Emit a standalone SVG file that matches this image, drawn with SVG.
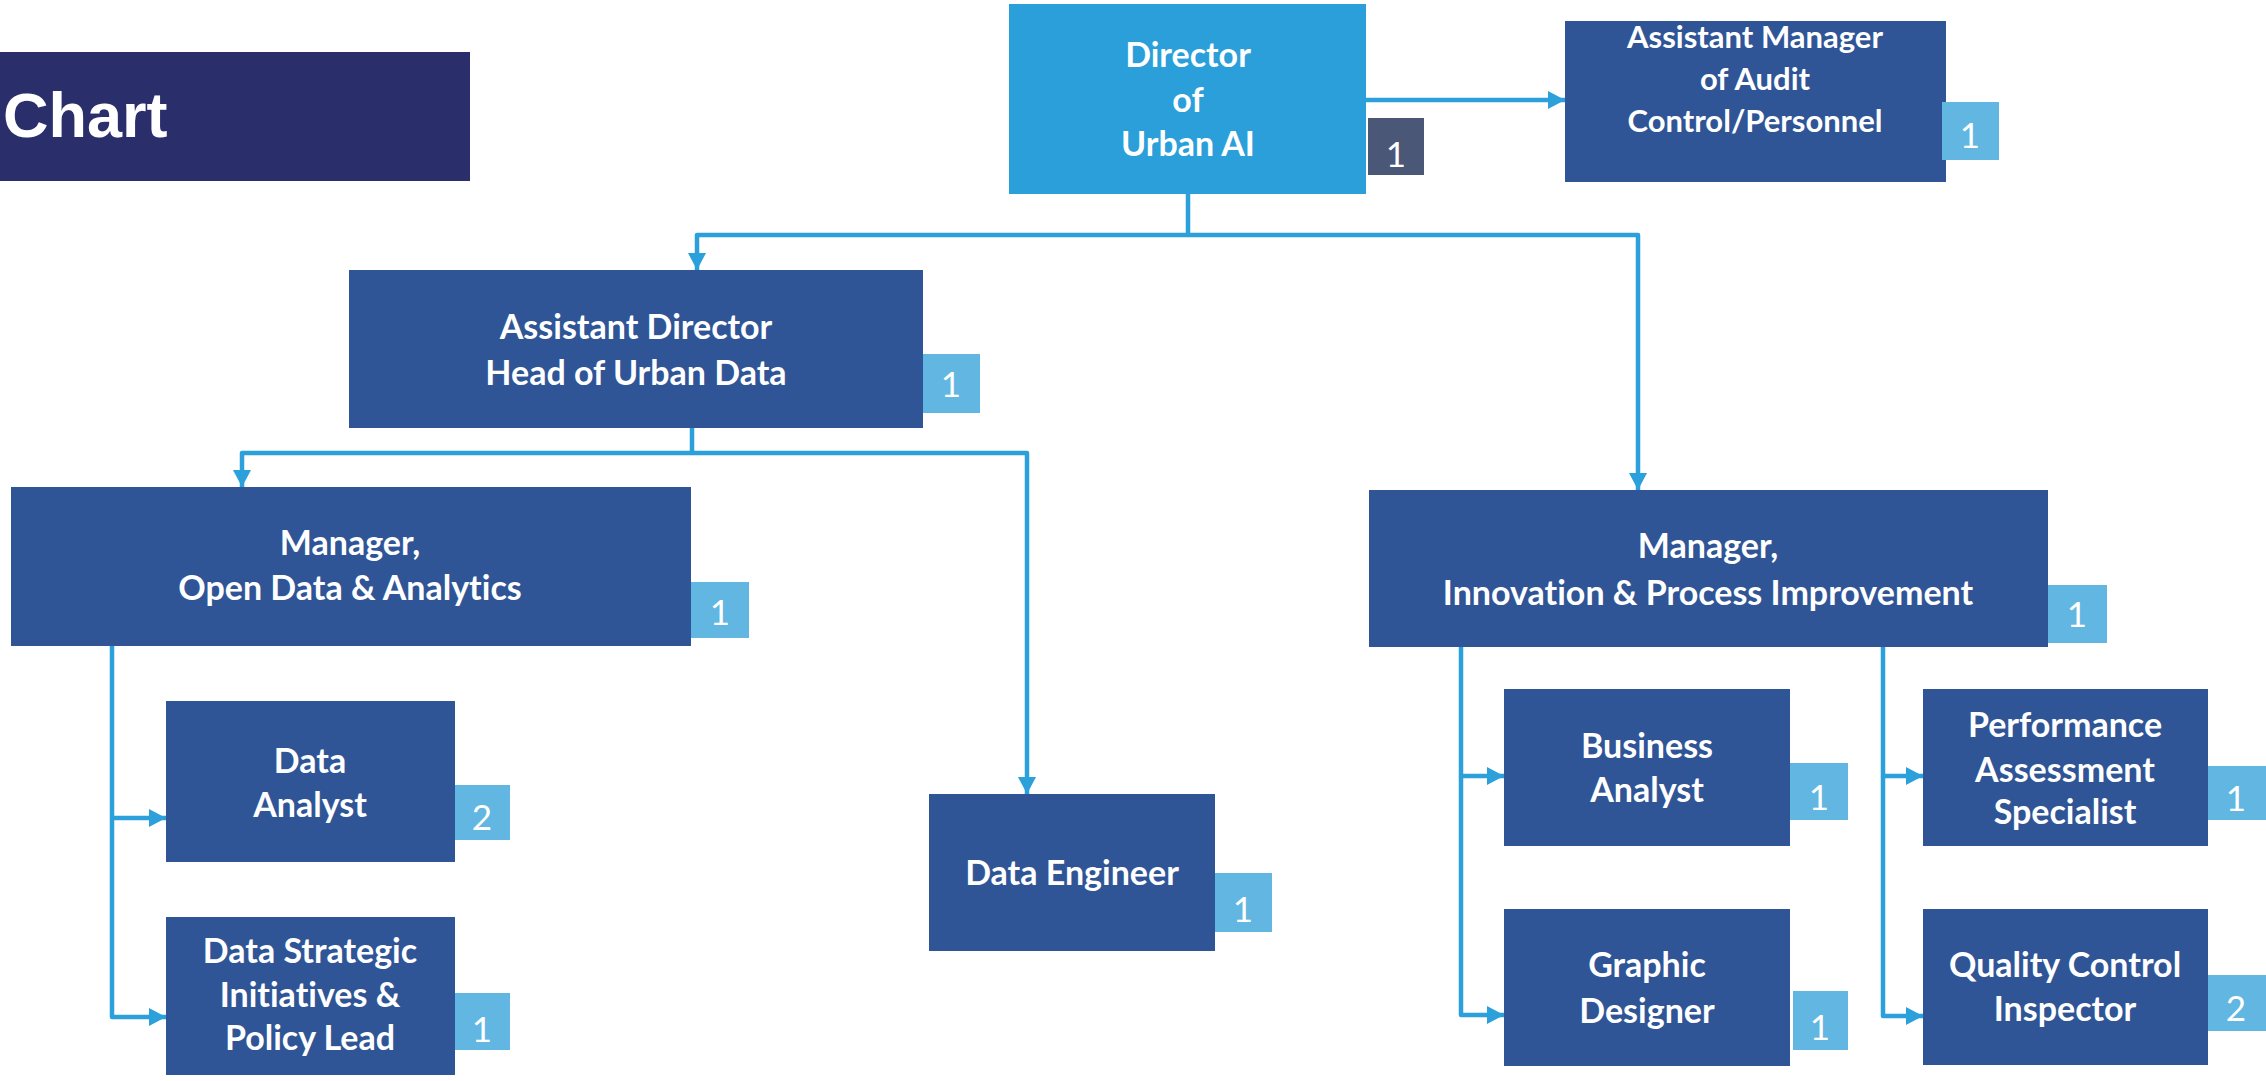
<svg xmlns="http://www.w3.org/2000/svg" width="2266" height="1081" viewBox="0 0 2266 1081">
<style>
.box{fill:#2F5597}
.top{fill:#2B9FD9}
.badge{fill:#62B6E2}
.badge-dark{fill:#4A5777}
.t{font-family:Lato,"Open Sans","Liberation Sans",sans-serif;font-weight:700;font-size:34px;fill:#ffffff;text-anchor:middle;font-variant-ligatures:none}
.ts{font-size:31px}
.n{font-family:Lato,"Open Sans","Liberation Sans",sans-serif;font-weight:400;font-size:35px;fill:#ffffff;text-anchor:middle}
.c{fill:none;stroke:#2BA0DA;stroke-width:4.5;stroke-linejoin:round}
</style>
<defs>
<marker id="arr" markerUnits="userSpaceOnUse" markerWidth="18" markerHeight="18" refX="17" refY="9" orient="auto">
<path d="M0,0 L17,9 L0,18 z" fill="#2BA0DA"/>
</marker>
</defs>
<rect width="2266" height="1081" fill="#ffffff"/>
<g id="title">
<rect x="0" y="52" width="470" height="129" fill="#2A2F6B"/>
<text x="3" y="137" font-family="'Liberation Sans',Arial,sans-serif" font-weight="700" font-size="63" fill="#ffffff">Chart</text>
</g>
<g id="connectors">
<path class="c" d="M1366,100 H1565" marker-end="url(#arr)"/>
<path class="c" d="M1188,194 V235 H697 V270" marker-end="url(#arr)"/>
<path class="c" d="M1188,235 H1638 V490" marker-end="url(#arr)"/>
<path class="c" d="M692,428 V453 H242 V487" marker-end="url(#arr)"/>
<path class="c" d="M692,453 H1027 V794" marker-end="url(#arr)"/>
<path class="c" d="M112,646 V818 H166" marker-end="url(#arr)"/>
<path class="c" d="M112,818 V1017 H166" marker-end="url(#arr)"/>
<path class="c" d="M1461,647 V776 H1504" marker-end="url(#arr)"/>
<path class="c" d="M1461,776 V1015 H1504" marker-end="url(#arr)"/>
<path class="c" d="M1883,647 V776 H1923" marker-end="url(#arr)"/>
<path class="c" d="M1883,776 V1016 H1923" marker-end="url(#arr)"/>
</g>
<g id="director">
<rect class="top" x="1009" y="4" width="357" height="190"/>
<text class="t" x="1188" y="67">Director</text>
<text class="t" x="1188" y="112">of</text>
<text class="t" x="1188" y="156">Urban AI</text>
<rect class="badge-dark" x="1368" y="118" width="56" height="57"/>
<text class="n" x="1396" y="167">1</text>
</g>
<g id="asst-manager">
<rect class="box" x="1565" y="21" width="381" height="161"/>
<text class="t ts" x="1755" y="48">Assistant Manager</text>
<text class="t ts" x="1755" y="90">of Audit</text>
<text class="t ts" x="1755" y="132">Control/Personnel</text>
<rect class="badge" x="1942" y="102" width="57" height="58"/>
<text class="n" x="1970" y="148">1</text>
</g>
<g id="asst-director">
<rect class="box" x="349" y="270" width="574" height="158"/>
<text class="t" x="636" y="339">Assistant Director</text>
<text class="t" x="636" y="385">Head of Urban Data</text>
<rect class="badge" x="923" y="354" width="57" height="59"/>
<text class="n" x="951" y="397">1</text>
</g>
<g id="manager-open-data">
<rect class="box" x="11" y="487" width="680" height="159"/>
<text class="t" x="350" y="555">Manager,</text>
<text class="t" x="350" y="600">Open Data &amp; Analytics</text>
<rect class="badge" x="691" y="582" width="58" height="56"/>
<text class="n" x="720" y="625">1</text>
</g>
<g id="data-analyst">
<rect class="box" x="166" y="701" width="289" height="161"/>
<text class="t" x="310" y="773">Data</text>
<text class="t" x="310" y="817">Analyst</text>
<rect class="badge" x="455" y="785" width="55" height="55"/>
<text class="n" x="482" y="830">2</text>
</g>
<g id="data-strategic">
<rect class="box" x="166" y="917" width="289" height="158"/>
<text class="t" x="310" y="963">Data Strategic</text>
<text class="t" x="310" y="1007">Initiatives &amp;</text>
<text class="t" x="310" y="1050">Policy Lead</text>
<rect class="badge" x="455" y="993" width="55" height="57"/>
<text class="n" x="482" y="1042">1</text>
</g>
<g id="data-engineer">
<rect class="box" x="929" y="794" width="286" height="157"/>
<text class="t" x="1072" y="885">Data Engineer</text>
<rect class="badge" x="1215" y="873" width="57" height="59"/>
<text class="n" x="1243" y="922">1</text>
</g>
<g id="manager-innovation">
<rect class="box" x="1369" y="490" width="679" height="157"/>
<text class="t" x="1708" y="558">Manager,</text>
<text class="t" x="1708" y="605">Innovation &amp; Process Improvement</text>
<rect class="badge" x="2048" y="585" width="59" height="58"/>
<text class="n" x="2077" y="627">1</text>
</g>
<g id="business-analyst">
<rect class="box" x="1504" y="689" width="286" height="157"/>
<text class="t" x="1647" y="758">Business</text>
<text class="t" x="1647" y="802">Analyst</text>
<rect class="badge" x="1790" y="763" width="58" height="57"/>
<text class="n" x="1819" y="810">1</text>
</g>
<g id="graphic-designer">
<rect class="box" x="1504" y="909" width="286" height="157"/>
<text class="t" x="1647" y="977">Graphic</text>
<text class="t" x="1647" y="1023">Designer</text>
<rect class="badge" x="1793" y="991" width="55" height="59"/>
<text class="n" x="1820" y="1040">1</text>
</g>
<g id="performance-specialist">
<rect class="box" x="1923" y="689" width="285" height="157"/>
<text class="t" x="2065" y="737">Performance</text>
<text class="t" x="2065" y="782">Assessment</text>
<text class="t" x="2065" y="824">Specialist</text>
<rect class="badge" x="2208" y="766" width="58" height="54"/>
<text class="n" x="2236" y="811">1</text>
</g>
<g id="quality-inspector">
<rect class="box" x="1923" y="909" width="285" height="156"/>
<text class="t" x="2065" y="977">Quality Control</text>
<text class="t" x="2065" y="1021">Inspector</text>
<rect class="badge" x="2208" y="975" width="58" height="56"/>
<text class="n" x="2236" y="1021">2</text>
</g>
</svg>
